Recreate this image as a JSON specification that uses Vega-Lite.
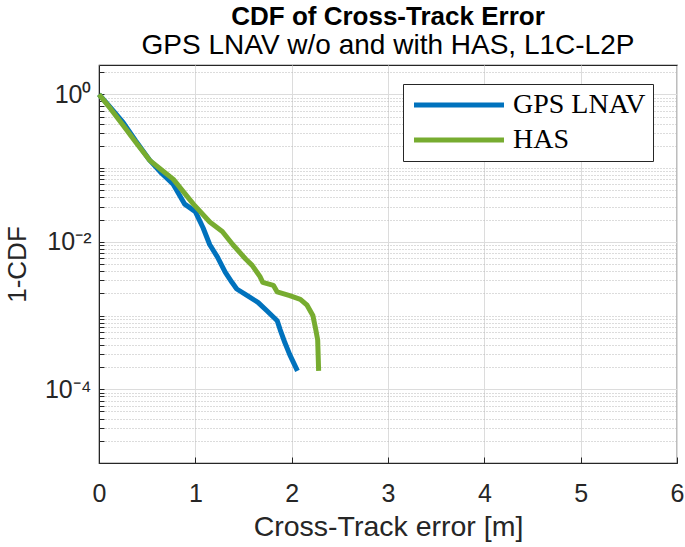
{
  "$schema": "https://vega.github.io/schema/vega-lite/v6.json",
  "width": 578,
  "height": 398,
  "autosize": {"type": "none"},
  "padding": {"left": 99, "top": 65, "right": 8, "bottom": 84},
  "background": "white",
  "title": {
    "text": "CDF of Cross-Track Error",
    "subtitle": "GPS LNAV w/o and with HAS, L1C-L2P",
    "font": "Liberation Sans",
    "fontSize": 26,
    "fontWeight": "bold",
    "color": "black",
    "subtitleFont": "Liberation Sans",
    "subtitleFontSize": 28,
    "subtitleColor": "black",
    "subtitlePadding": 2,
    "anchor": "middle",
    "offset": 0
  },
  "config": {
    "view": {"stroke": "#262626", "strokeWidth": 1.2},
    "axis": {
      "labelFont": "Liberation Sans",
      "titleFont": "Liberation Sans",
      "labelColor": "#262626",
      "titleColor": "#262626",
      "titleFontWeight": "normal",
      "domainColor": "#262626",
      "tickColor": "#262626"
    }
  },
  "data": {
    "values": [
      {"x": 0.0, "p": 1.0, "series": "GPS LNAV"},
      {"x": 0.12, "p": 0.66, "series": "GPS LNAV"},
      {"x": 0.25, "p": 0.417, "series": "GPS LNAV"},
      {"x": 0.38, "p": 0.235, "series": "GPS LNAV"},
      {"x": 0.53, "p": 0.126, "series": "GPS LNAV"},
      {"x": 0.65, "p": 0.085, "series": "GPS LNAV"},
      {"x": 0.77, "p": 0.0603, "series": "GPS LNAV"},
      {"x": 0.89, "p": 0.0324, "series": "GPS LNAV"},
      {"x": 1.0, "p": 0.0257, "series": "GPS LNAV"},
      {"x": 1.08, "p": 0.0155, "series": "GPS LNAV"},
      {"x": 1.15, "p": 0.00912, "series": "GPS LNAV"},
      {"x": 1.23, "p": 0.0062, "series": "GPS LNAV"},
      {"x": 1.31, "p": 0.00389, "series": "GPS LNAV"},
      {"x": 1.38, "p": 0.00282, "series": "GPS LNAV"},
      {"x": 1.43, "p": 0.00229, "series": "GPS LNAV"},
      {"x": 1.54, "p": 0.00186, "series": "GPS LNAV"},
      {"x": 1.65, "p": 0.00151, "series": "GPS LNAV"},
      {"x": 1.74, "p": 0.00117, "series": "GPS LNAV"},
      {"x": 1.85, "p": 0.000851, "series": "GPS LNAV"},
      {"x": 1.88, "p": 0.000646, "series": "GPS LNAV"},
      {"x": 1.93, "p": 0.000427, "series": "GPS LNAV"},
      {"x": 1.98, "p": 0.000295, "series": "GPS LNAV"},
      {"x": 2.06, "p": 0.000178, "series": "GPS LNAV"},
      {"x": 0.0, "p": 1.0, "series": "HAS"},
      {"x": 0.12, "p": 0.64, "series": "HAS"},
      {"x": 0.25, "p": 0.38, "series": "HAS"},
      {"x": 0.38, "p": 0.225, "series": "HAS"},
      {"x": 0.53, "p": 0.126, "series": "HAS"},
      {"x": 0.65, "p": 0.094, "series": "HAS"},
      {"x": 0.77, "p": 0.0708, "series": "HAS"},
      {"x": 0.98, "p": 0.0324, "series": "HAS"},
      {"x": 1.15, "p": 0.0186, "series": "HAS"},
      {"x": 1.28, "p": 0.0138, "series": "HAS"},
      {"x": 1.39, "p": 0.00912, "series": "HAS"},
      {"x": 1.52, "p": 0.00589, "series": "HAS"},
      {"x": 1.59, "p": 0.00479, "series": "HAS"},
      {"x": 1.67, "p": 0.00339, "series": "HAS"},
      {"x": 1.7, "p": 0.00282, "series": "HAS"},
      {"x": 1.81, "p": 0.00257, "series": "HAS"},
      {"x": 1.85, "p": 0.00209, "series": "HAS"},
      {"x": 1.98, "p": 0.00186, "series": "HAS"},
      {"x": 2.09, "p": 0.00166, "series": "HAS"},
      {"x": 2.16, "p": 0.00138, "series": "HAS"},
      {"x": 2.22, "p": 0.001, "series": "HAS"},
      {"x": 2.25, "p": 0.000646, "series": "HAS"},
      {"x": 2.27, "p": 0.000468, "series": "HAS"},
      {"x": 2.28, "p": 0.000178, "series": "HAS"}
    ]
  },
  "mark": {"type": "line", "strokeWidth": 5, "strokeJoin": "round", "strokeCap": "butt"},
  "encoding": {
    "x": {
      "field": "x",
      "type": "quantitative",
      "scale": {"domain": [0, 6], "nice": false, "zero": false},
      "axis": {
        "title": "Cross-Track error [m]",
        "values": [0, 1, 2, 3, 4, 5, 6],
        "format": "d",
        "labelFontSize": 25,
        "titleFontSize": 28.5,
        "labelPadding": 24,
        "titlePadding": 6,
        "tickSize": -6,
        "grid": true,
        "gridColor": "#dcdcdc",
        "gridWidth": 1,
        "labelFlush": false
      }
    },
    "y": {
      "field": "p",
      "type": "quantitative",
      "scale": {"type": "log", "domain": [0.00001, 2.5], "nice": false},
      "axis": {
        "title": "1-CDF",
        "values": [0.00001, 0.00002, 0.00003, 0.00004, 0.00005, 0.00006, 0.00007, 0.00008, 0.00009,
                   0.0001, 0.0002, 0.0003, 0.0004, 0.0005, 0.0006, 0.0007, 0.0008, 0.0009,
                   0.001, 0.002, 0.003, 0.004, 0.005, 0.006, 0.007, 0.008, 0.009,
                   0.01, 0.02, 0.03, 0.04, 0.05, 0.06, 0.07, 0.08, 0.09,
                   0.1, 0.2, 0.3, 0.4, 0.5, 0.6, 0.7, 0.8, 0.9, 1, 2],
        "labelExpr": "abs(datum.value-1)<1e-9 ? '10⁰' : abs(datum.value-0.01)<1e-9 ? '10⁻²' : abs(datum.value-0.0001)<1e-12 ? '10⁻⁴' : ''",
        "labelFontSize": 25,
        "titleFontSize": 26,
        "labelPadding": 13,
        "titlePadding": 14,
        "tickSize": -5,
        "labelFlush": false,
        "labelOverlap": false,
        "grid": true,
        "gridColor": {"condition": {"test": "abs(datum.value-1)<1e-9 || abs(datum.value-0.01)<1e-9 || abs(datum.value-0.0001)<1e-12", "value": "#dcdcdc"}, "value": "#b8b8b8"},
        "gridDash": {"condition": {"test": "abs(datum.value-1)<1e-9 || abs(datum.value-0.01)<1e-9 || abs(datum.value-0.0001)<1e-12", "value": []}, "value": [1, 2]},
        "gridWidth": 1
      }
    },
    "color": {
      "field": "series",
      "type": "nominal",
      "scale": {"domain": ["GPS LNAV", "HAS"], "range": ["#0072BD", "#77AC30"]},
      "legend": {
        "title": null,
        "orient": "none",
        "legendX": 304,
        "legendY": 19,
        "symbolType": "M-1,0H8",
        "symbolSize": 400,
        "symbolStrokeWidth": 5,
        "symbolFillColor": "transparent",
        "labelFont": "Liberation Serif",
        "labelFontSize": 28,
        "labelColor": "black",
        "labelOffset": 75,
        "padding": 7,
        "rowPadding": 7,
        "strokeColor": "#262626",
        "fillColor": "white"
      }
    }
  }
}
